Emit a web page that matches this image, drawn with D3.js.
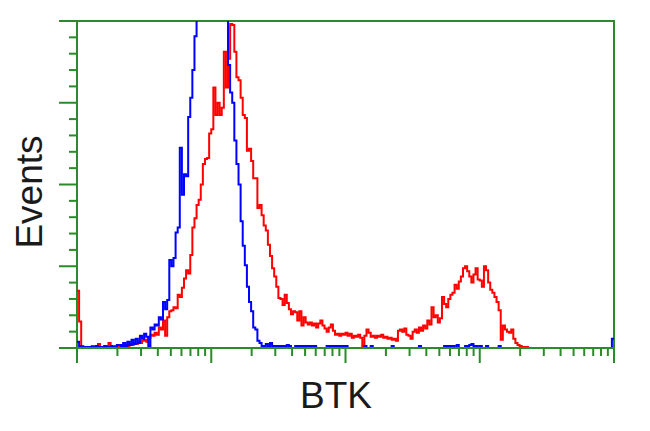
<!DOCTYPE html>
<html><head><meta charset="utf-8">
<script src="https://cdn.jsdelivr.net/npm/d3@7"></script>
<style>html,body{margin:0;padding:0;background:#fff;}svg{display:block;}</style>
</head><body>
<script>
// ---- data ----
const xLabel = "BTK";
const yLabel = "Events";
const xDomain = [1, 10000];           // 4 log decades
const yDomain = [0, 320];             // counts
const channelsPerDecade = 64;         // 256 channels
const yMajorTicks = [0, 80, 160, 240, 320];
const yMinorStep = 16;

const blueCounts = [
  6,2,1,1,0,1,0,1,0,2,0,1,0,2,1,0,
  2,1,0,3,3,2,5,1,6,3,8,4,9,5,12,9,
  14,11,2,20,18,23,22,30,28,45,38,47,86,80,88,113,
  118,196,150,170,168,226,245,272,305,330,360,380,400,420,440,450,
  460,455,450,430,400,380,360,340,277,250,240,203,180,160,124,100,
  81,60,45,36,20,18,7,5,2,2,4,1,5,2,2,2,
  2,2,2,2,3,2,0,0,2,2,2,2,2,2,2,2,
  2,2,0,0,0,0,0,2,2,2,2,2,2,2,2,2,
  2,0,0,0,0,0,0,0,0,2,0,0,2,0,0,0,
  0,0,0,0,0,0,2,0,0,0,0,0,0,0,0,0,
  0,0,0,2,0,0,0,0,0,0,0,0,0,0,0,2,
  2,2,2,2,0,3,0,0,0,2,2,3,4,2,2,0,
  2,0,0,2,0,0,0,0,0,2,0,0,0,0,0,0,
  0,0,0,0,0,0,0,0,0,0,0,0,0,0,0,0,
  0,0,0,0,0,0,0,0,0,0,0,0,0,0,0,0,
  0,0,0,0,0,0,0,0,0,0,0,0,0,0,0,9
];
const redCounts = [
  56,26,2,1,1,1,1,2,1,1,4,1,1,2,1,5,
  1,1,2,1,1,2,2,3,2,4,3,5,4,6,5,7,
  8,6,10,13,12,15,13,20,18,27,12,30,36,37,40,39,
  52,50,59,68,76,73,91,118,127,140,145,160,180,185,186,210,
  214,255,228,240,228,235,290,255,283,317,316,290,265,262,245,228,
  225,193,195,183,166,166,137,140,130,120,115,101,90,78,70,60,
  49,48,42,52,44,38,33,36,35,27,36,22,30,25,23,25,
  22,24,20,24,27,22,19,16,20,23,17,13,14,12,14,13,
  15,12,14,10,12,11,13,10,2,12,18,15,11,12,10,12,
  11,13,10,11,9,10,8,9,7,17,18,16,19,13,12,9,
  16,18,15,20,17,22,19,27,23,40,30,32,25,29,50,43,
  40,48,52,54,62,58,65,70,78,80,75,70,64,72,78,67,
  66,60,80,76,64,57,54,50,45,37,8,22,18,16,15,18,
  9,5,3,2,1,1,1,0,0,0,0,0,0,0,0,0,
  0,0,0,0,0,0,0,0,0,0,0,0,0,0,0,0,
  0,0,0,0,0,0,0,0,0,0,0,0,0,0,0,0
];

(function () {
// ---- layout ----
const W = 650, H = 431;
const pL = 77, pR = 614, pT = 21, pB = 348;
const green = "#2b8a2b";

const svg = d3.select("body").append("svg").attr("width", W).attr("height", H);

const x = d3.scaleLog().domain(xDomain).range([pL, pR]);
const y = d3.scaleLinear().domain(yDomain).range([pB, pT]);

// frame (under curves)
const frame = svg.append("g").attr("stroke", green).attr("stroke-width", 2).attr("fill", "none");
frame.append("line").attr("x1", pL).attr("x2", pL).attr("y1", pT).attr("y2", pB);
frame.append("line").attr("x1", pR).attr("x2", pR).attr("y1", pT).attr("y2", pB);
frame.append("line").attr("x1", 59).attr("x2", pR + 1).attr("y1", pT).attr("y2", pT);

// y ticks
const yMinor = d3.range(yDomain[0], yDomain[1] + 0.1, yMinorStep).filter(v => !yMajorTicks.includes(v));
frame.selectAll(".ymaj").data(yMajorTicks).join("line")
  .attr("x1", 59).attr("x2", pL).attr("y1", d => y(d)).attr("y2", d => y(d));
frame.selectAll(".ymin").data(yMinor).join("line")
  .attr("x1", 69).attr("x2", pL).attr("y1", d => y(d)).attr("y2", d => y(d));

// x ticks (log decades + minor)
const xMajor = [1, 10, 100, 1000, 10000];
const xMinor = [];
[1, 10, 100, 1000].forEach(d => { for (let k = 2; k <= 9; k++) xMinor.push(d * k); });
frame.selectAll(".xmaj").data(xMajor).join("line")
  .attr("x1", d => x(d)).attr("x2", d => x(d)).attr("y1", pB).attr("y2", 363);
frame.selectAll(".xmin").data(xMinor).join("line")
  .attr("x1", d => x(d)).attr("x2", d => x(d)).attr("y1", pB).attr("y2", 356);

// curves
svg.append("clipPath").attr("id", "clip").append("rect")
  .attr("x", pL - 4).attr("y", pT).attr("width", pR - pL + 8).attr("height", pB - pT + 4);

const nCh = blueCounts.length;
const edges = d3.range(nCh + 1).map(c => Math.pow(10, c / channelsPerDecade));
function pts(counts) {
  const p = counts.map((v, i) => [edges[i], v]);
  p.push([edges[nCh], counts[nCh - 1]]);
  return p;
}
const line = d3.line().x(d => x(d[0])).y(d => y(d[1])).curve(d3.curveStepAfter);
const g = svg.append("g").attr("clip-path", "url(#clip)").attr("fill", "none").attr("stroke-width", 2);
g.append("path").attr("d", line(pts(redCounts))).attr("stroke", "#ff0000");
g.append("path").attr("d", line(pts(blueCounts))).attr("stroke", "#0000ff");

// bottom axis line over curves
svg.append("line").attr("x1", 59).attr("x2", pR + 1).attr("y1", pB).attr("y2", pB)
  .attr("stroke", green).attr("stroke-width", 2);

// labels
svg.append("text").text(xLabel)
  .attr("x", 336).attr("y", 408).attr("text-anchor", "middle")
  .attr("font-family", "Liberation Sans, Arial, sans-serif").attr("font-size", 37).attr("fill", "#1a1a1a");
svg.append("text").text(yLabel)
  .attr("transform", "translate(42,192) rotate(-90)").attr("text-anchor", "middle")
  .attr("font-family", "Liberation Sans, Arial, sans-serif").attr("font-size", 37).attr("fill", "#1a1a1a");
})();
</script>
</body></html>
